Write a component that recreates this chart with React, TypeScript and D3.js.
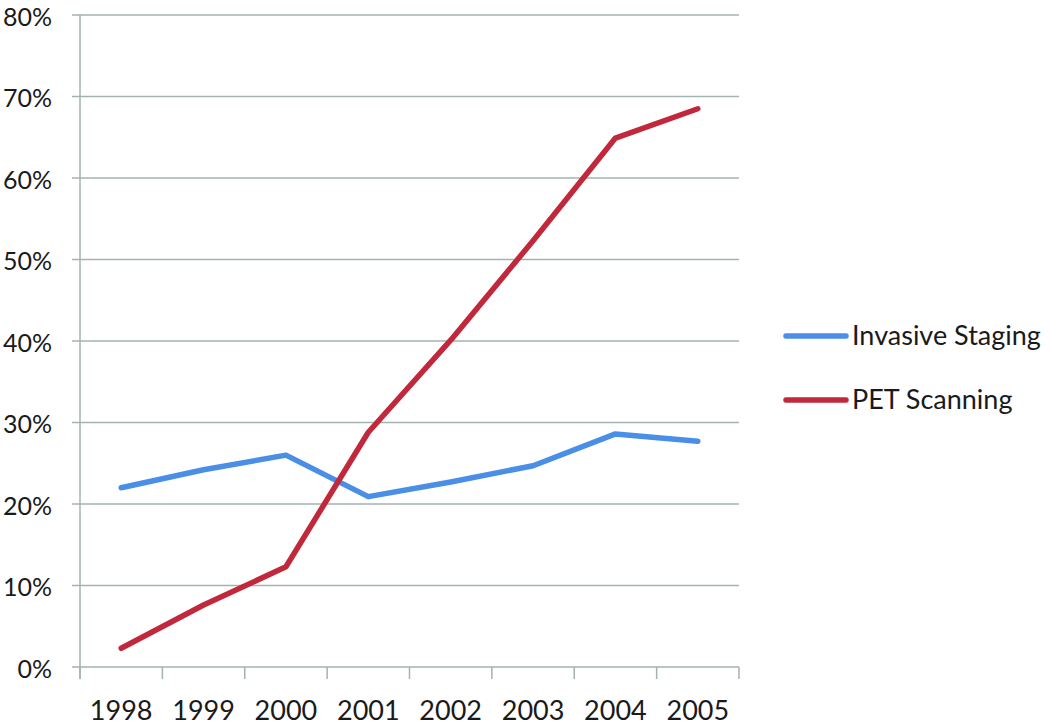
import React from "react";
import * as d3 from "d3";

const years = ["1998", "1999", "2000", "2001", "2002", "2003", "2004", "2005"];
const invasiveStaging = [22.0, 24.2, 26.0, 20.9, 22.7, 24.7, 28.6, 27.7];
const petScanning = [2.3, 7.6, 12.3, 28.8, 40.1, 52.3, 64.9, 68.5];
const yTicks = [0, 10, 20, 30, 40, 50, 60, 70, 80];
const seriesNames = ["Invasive Staging", "PET Scanning"];
const seriesColors = ["#4a8ee6", "#c1283b"];

export default function App() {
  const W = 1050, H = 726;
  const left = 80, right = 739, top = 15, bottom = 667;
  const x = d3.scaleBand<string>().domain(years).range([left, right]);
  const y = d3.scaleLinear().domain([0, 80]).range([bottom, top]);
  const line = d3
    .line<number>()
    .x((_, i) => (x(years[i]) as number) + x.bandwidth() / 2)
    .y((d) => y(d));
  const grid = "#a3b3b0";
  const font = "Lato, 'Open Sans', sans-serif";
  const series = [invasiveStaging, petScanning];
  const boundaries = years.map((yr) => x(yr) as number).concat([right]);
  return (
    <svg width={W} height={H} style={{ position: "absolute", left: 0, top: 0, background: "#fff" }}>
      {yTicks.map((t) => (
        <g key={t}>
          <line x1={72} x2={right} y1={y(t)} y2={y(t)} stroke={grid} strokeWidth={1.5} />
          <text x={52} y={y(t) + 2} dy="0.35em" textAnchor="end" fontFamily={font} fontSize={25} fill="#1a1a1a">
            {t}%
          </text>
        </g>
      ))}
      <line x1={left} x2={left} y1={top} y2={bottom + 12} stroke={grid} strokeWidth={1.5} />
      {boundaries.map((b, i) => (
        <line key={i} x1={b} x2={b} y1={bottom} y2={bottom + 12} stroke={grid} strokeWidth={1.5} />
      ))}
      {years.map((yr) => (
        <text key={yr} x={(x(yr) as number) + x.bandwidth() / 2} y={711} dy="0.35em" textAnchor="middle" fontFamily={font} fontSize={27} fill="#1a1a1a">
          {yr}
        </text>
      ))}
      {series.map((s, i) => (
        <path key={i} d={line(s) || ""} fill="none" stroke={seriesColors[i]} strokeWidth={5.5} strokeLinecap="round" strokeLinejoin="round" />
      ))}
      {seriesNames.map((n, i) => (
        <g key={n}>
          <line x1={786} x2={846} y1={336 + i * 64} y2={336 + i * 64} stroke={seriesColors[i]} strokeWidth={5.5} strokeLinecap="round" />
          <text x={852} y={336 + i * 64} dy="0.35em" fontFamily={font} fontSize={27} fill="#1a1a1a">
            {n}
          </text>
        </g>
      ))}
    </svg>
  );
}
